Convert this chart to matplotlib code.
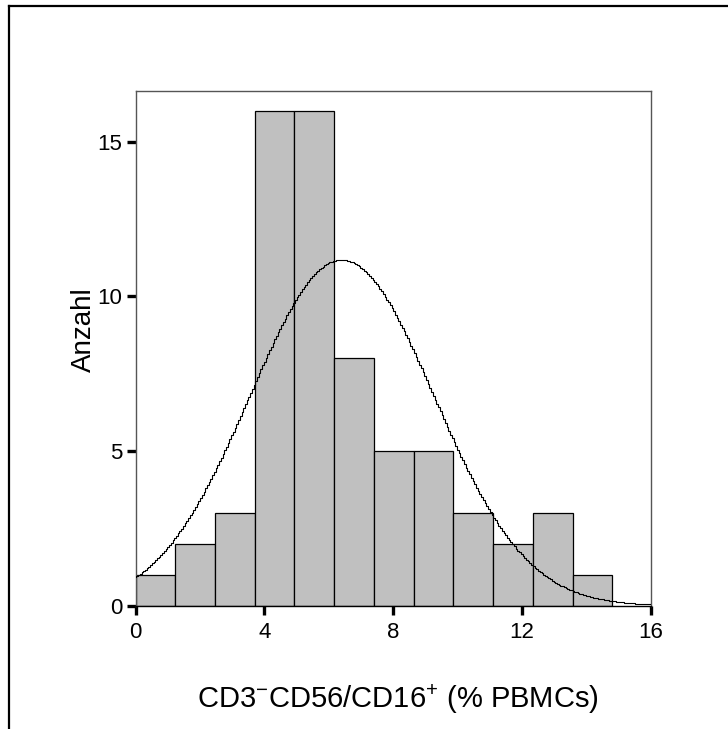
import numpy as np
import matplotlib
matplotlib.use("Agg")
import matplotlib.pyplot as plt
from matplotlib.lines import Line2D

plt.rcParams['font.family'] = ['Liberation Sans', 'DejaVu Sans']

# Data
bin_edges = [0, 1.233, 2.467, 3.7, 4.933, 6.167, 7.4, 8.633, 9.867, 11.1, 12.333, 13.567, 14.8]
counts = [1, 2, 3, 16, 16, 8, 5, 5, 3, 2, 3, 1]
fit_mean = 6.4
fit_sd = 2.86
x_ticks = [0, 4, 8, 12, 16]
y_ticks = [0, 5, 10, 15]

fig = plt.figure(figsize=(7.28, 7.29), dpi=100)
ax = fig.add_axes([135.5/728, (729-605.7)/729, (651-135.5)/728, (605.7-91)/729])

edges = np.array(bin_edges)
widths = np.diff(edges)
ax.bar(edges[:-1], counts, width=widths, align='edge', color='#c0c0c0',
       edgecolor='black', linewidth=0.9, zorder=2)

# fitted normal curve (SPSS style, stepped)
n = sum(counts)
bw = widths.mean()
xs = np.linspace(0, 16, 300)
ys = n * bw / (fit_sd * np.sqrt(2 * np.pi)) * np.exp(-0.5 * ((xs - fit_mean) / fit_sd) ** 2)
ax.plot(xs, ys, color='black', lw=0.8, drawstyle='steps-mid', zorder=3)

ax.set_xlim(0, 16)
ax.set_ylim(0, 16.64)
ax.set_xticks(x_ticks)
ax.set_yticks(y_ticks)
ax.tick_params(axis='both', direction='out', length=6.5, width=2.4, labelsize=16,
               color='black')
ax.tick_params(axis='x', pad=5)
ax.tick_params(axis='y', pad=3)
for s in ['left', 'right', 'top']:
    ax.spines[s].set_color('#555555')
    ax.spines[s].set_linewidth(1.0)
ax.spines['bottom'].set_color('black')
ax.spines['bottom'].set_linewidth(1.0)

ax.set_ylabel('Anzahl', fontsize=20, va='center')
ax.yaxis.set_label_coords((84 - 135.5) / 515.5, (605.7 - 330) / 514.7)
ax.set_xlabel('CD3$^{\\mathregular{-}}$CD56/CD16$^{\\mathregular{+}}$ (% PBMCs)', fontsize=21, va='center')
ax.xaxis.set_label_coords((398 - 135.5) / 515.5, (605.7 - 699) / 514.7)

# outer frame
fig.add_artist(Line2D([9/728, 1.0], [1-6/729, 1-6/729], color='black', lw=1.6, transform=fig.transFigure))
fig.add_artist(Line2D([9/728, 9/728], [0, 1-6/729], color='black', lw=1.6, transform=fig.transFigure))

fig.savefig('out.png', dpi=100)
